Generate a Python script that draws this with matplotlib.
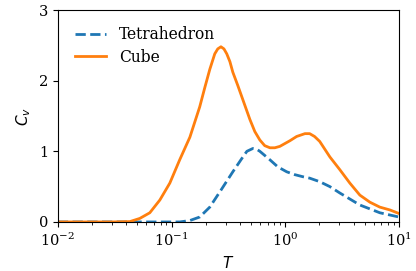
import numpy as np
import matplotlib
matplotlib.use("Agg")
import matplotlib.pyplot as plt

plt.rcParams["font.family"] = "serif"
plt.rcParams["font.serif"] = ["DejaVu Serif"]
plt.rcParams["mathtext.fontset"] = "dejavusans"

# values
T_cube = [0.01, 0.03, 0.043, 0.0526, 0.0644, 0.0789, 0.0966, 0.118, 0.145, 0.177,
          0.196, 0.217, 0.240, 0.255, 0.272, 0.289, 0.306, 0.326, 0.346, 0.383,
          0.424, 0.489, 0.54, 0.598, 0.66, 0.733, 0.81, 0.897, 1.10, 1.26,
          1.49, 1.64, 1.81, 2.01, 2.47, 3.02, 3.70, 4.53, 5.55, 6.79, 8.32, 10.0]
cv_cube = [0.0, 0.0, 0.005, 0.05, 0.13, 0.31, 0.55, 0.88, 1.20, 1.63,
           1.90, 2.16, 2.38, 2.45, 2.48, 2.45, 2.38, 2.27, 2.12, 1.93,
           1.73, 1.45, 1.28, 1.16, 1.08, 1.05, 1.05, 1.07, 1.15, 1.21,
           1.25, 1.25, 1.21, 1.14, 0.92, 0.74, 0.55, 0.38, 0.28, 0.21, 0.17, 0.12]

T_tetra = [0.01, 0.05, 0.118, 0.145, 0.177, 0.217, 0.272, 0.346, 0.424, 0.46,
           0.519, 0.56, 0.598, 0.64, 0.733, 0.86, 1.03, 1.21, 1.43, 1.64,
           2.01, 2.47, 3.02, 4.53, 6.79, 10.0]
cv_tetra = [0.0, 0.0, 0.0, 0.02, 0.07, 0.21, 0.45, 0.71, 0.92, 1.00,
            1.04, 1.03, 1.00, 0.96, 0.88, 0.78, 0.71, 0.67, 0.64, 0.62,
            0.57, 0.50, 0.41, 0.24, 0.13, 0.07]

fig, ax = plt.subplots(figsize=(4.16, 2.71), dpi=100)
fig.subplots_adjust(left=0.139, right=0.959, bottom=0.181, top=0.963)

ax.plot(T_tetra, cv_tetra, "--", color="C0", lw=2, label="Tetrahedron")
ax.plot(T_cube, cv_cube, "-", color="C1", lw=2, label="Cube")

ax.set_xscale("log")
ax.set_xlim(1e-2, 1e1)
ax.set_ylim(0, 3)
ax.set_yticks([0, 1, 2, 3])
ax.tick_params(labelsize=10.5)
ax.set_xlabel(r"$T$", fontsize=11)
ax.set_ylabel(r"$C_v$", fontsize=11)
ax.legend(loc="upper left", frameon=False, fontsize=11.2, labelspacing=0.35,
          bbox_to_anchor=(0.01, 0.99))

fig.savefig("out.png")
